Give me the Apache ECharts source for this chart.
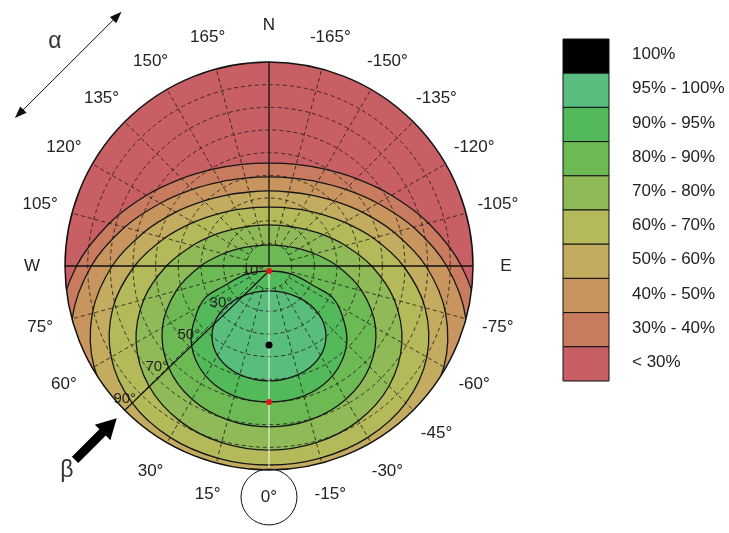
<!DOCTYPE html>
<html><head><meta charset="utf-8">
<script src="https://cdn.jsdelivr.net/npm/echarts@6/dist/echarts.min.js"></script>
<style>html,body{margin:0;padding:0;background:#fff}#c{width:729px;height:533px}</style>
</head><body><div id="c"></div>
<script>
// ---------- data ----------
// orientation alpha (deg) of sampled rays on the west half; chart is mirror-symmetric N-S
const rayAngles = [0, 15, 30, 45, 60, 75, 90, 105, 120, 135, 150, 165, 180];
// tilt beta (deg) where each iso-irradiation line crosses those rays (>90 = outside the disk)
const iso30 = [107.2, 107.3, 107.5, 106.6, 103.2, 95.8, 84.9, 72.9, 62.4, 54.5, 49.3, 46.4, 45.4];
const iso40 = [101.0, 101.2, 101.5, 100.9, 97.5, 89.9, 78.4, 66.0, 55.4, 47.8, 42.9, 40.1, 39.3];
const iso50 = [94.8, 94.9, 94.7, 93.3, 89.1, 80.7, 69.2, 57.2, 47.5, 40.6, 36.2, 33.8, 33.1];
const iso60 = [87.8, 87.7, 87.3, 85.4, 80.4, 71.3, 59.3, 47.6, 38.5, 32.4, 28.7, 26.7, 26.0];
const iso70 = [81.2, 80.7, 78.9, 74.9, 67.7, 57.2, 45.3, 34.9, 27.6, 22.9, 20.0, 18.6, 18.1];
const iso80 = [71.0, 70.3, 67.9, 62.8, 54.3, 42.4, 30.2, 20.9, 15.3, 12.1, 10.4, 9.5, 9.3];
// closed iso-lines around the optimum, [alpha, beta] along the west half (bottom -> top)
const iso90 = [[0, 60.0], [12.4, 59.6], [24.4, 57.6], [35.6, 53.7], [46.5, 47.4], [56.1, 38.8], [63.4, 31.6], [65.9, 22.7], [70.0, 10.3], [0, 2.2]];
const iso95 = [[0, 50.7], [14.7, 49.7], [28.1, 46.3], [39.2, 39.8], [46.1, 30.2], [42.6, 18.6], [0, 11.0]];
const optimum = [0, 34.8];                 // [alpha, beta] of 100 %
const redMarks = [[0, 2.2], [0, 60.0]];    // [alpha, beta]
const bandLabels = ['100%', '95% - 100%', '90% - 95%', '80% - 90%', '70% - 80%', '60% - 70%', '50% - 60%', '40% - 50%', '30% - 40%', '< 30%'];
const bandColors = ['#000000', '#59be7d', '#53ba5b', '#6dba55', '#90ba58', '#b4ba5a', '#c3ab5f', '#c8955e', '#c97b5f', '#c75f64'];
const angleTicks = [180, 165, 150, 135, 120, 105, 90, 75, 60, 30, 15, 0, -15, -30, -45, -60, -75, -90, -105, -120, -135, -150, -165];
const angleTickLabels = ['N', '165°', '150°', '135°', '120°', '105°', 'W', '75°', '60°', '30°', '15°', '0°', '-15°', '-30°', '-45°', '-60°', '-75°', 'E', '-105°', '-120°', '-135°', '-150°', '-165°'];
const tiltTicks = [10, 30, 50, 70, 90];
const tiltTickLabels = ['10°', '30°', '50°', '70°', '90°'];
const gridTilts = [10, 20, 30, 40, 50, 60, 70, 80];
const gridAngles = [15, 30, 45, 60, 75, 105, 120, 135, 150, 165, -15, -30, -45, -60, -75, -105, -120, -135, -150, -165];

// ---------- helpers ----------
const FONT = '"Liberation Sans", Arial, sans-serif';
function rayPoly(vals) {
  const pts = [];
  for (let i = 0; i < rayAngles.length; i++) pts.push([vals[i], rayAngles[i]]);
  for (let i = rayAngles.length - 2; i >= 1; i--) pts.push([vals[i], -rayAngles[i]]);
  return pts;
}
function loopPoly(list) {
  const pts = list.map(p => [p[1], p[0]]);
  for (let i = list.length - 2; i >= 1; i--) pts.push([list[i][1], -list[i][0]]);
  return pts;
}
const levels = [
  { pts: rayPoly(iso30), color: bandColors[8] },
  { pts: rayPoly(iso40), color: bandColors[7] },
  { pts: rayPoly(iso50), color: bandColors[6] },
  { pts: rayPoly(iso60), color: bandColors[5] },
  { pts: rayPoly(iso70), color: bandColors[4] },
  { pts: rayPoly(iso80), color: bandColors[3] },
  { pts: loopPoly(iso90), color: bandColors[2] },
  { pts: loopPoly(iso95), color: bandColors[1] }
];
function geom(api) {
  const c = api.coord([0, 0]); const e = api.coord([90, 0]);
  return { cx: c[0], cy: c[1], R: Math.hypot(e[0] - c[0], e[1] - c[1]) };
}
function txt(t, x, y, size, color) {
  return { type: 'text', style: { text: t, x: x, y: y, font: size + 'px ' + FONT, fill: color || '#222',
    align: 'center', verticalAlign: 'middle', textAlign: 'center', textVerticalAlign: 'middle' } };
}
function layer(z, draw) {
  return { type: 'custom', coordinateSystem: 'polar', silent: true, z: z, data: [[0, 0]],
    renderItem: (p, api) => ({ type: 'group', children: draw(api) }) };
}

// ---------- layers ----------
const fills = layer(1, api => {
  const g = geom(api);
  const ch = [{ type: 'circle', shape: { cx: g.cx, cy: g.cy, r: g.R }, style: { fill: bandColors[9] } }];
  levels.forEach(l => ch.push({ type: 'polygon', shape: { points: l.pts.map(p => api.coord(p)), smooth: 0.35 }, style: { fill: l.color } }));
  return ch;
});
const grid = layer(2, api => {
  const g = geom(api); const ch = [];
  const st = { fill: 'none', stroke: 'rgba(30,25,20,0.8)', lineWidth: 1, lineDash: [4, 3] };
  gridTilts.forEach(b => {
    const e = api.coord([b, 0]);
    ch.push({ type: 'circle', shape: { cx: g.cx, cy: g.cy, r: Math.hypot(e[0] - g.cx, e[1] - g.cy) }, style: st });
  });
  gridAngles.forEach(a => {
    const p1 = api.coord([10, a]), p2 = api.coord([90, a]);
    ch.push({ type: 'line', shape: { x1: p1[0], y1: p1[1], x2: p2[0], y2: p2[1] }, style: st });
  });
  return ch;
});
const isoLines = layer(3, api => levels.map(l => ({ type: 'polygon',
  shape: { points: l.pts.map(p => api.coord(p)), smooth: 0.35 },
  style: { fill: 'none', stroke: '#161616', lineWidth: 1.3 } })));
const mask = layer(4, api => {
  const g = geom(api);
  return [{ type: 'ring', shape: { cx: g.cx, cy: g.cy, r: g.R + 60, r0: g.R }, style: { fill: '#ffffff' } }];
});
const frame = layer(5, api => {
  const g = geom(api); const ch = [];
  const w = api.coord([90, 90]), e = api.coord([90, -90]), n = api.coord([90, 180]);
  const s0 = api.coord([3, 0]), s1 = api.coord([90, 0]), d1 = api.coord([90, 45]), d0 = api.coord([2.2, 0]);
  ch.push({ type: 'line', shape: { x1: s0[0], y1: s0[1], x2: s1[0], y2: s1[1] }, style: { stroke: 'rgba(255,255,255,0.9)', lineWidth: 1 } });
  ch.push({ type: 'line', shape: { x1: w[0], y1: w[1], x2: e[0], y2: e[1] }, style: { stroke: '#111', lineWidth: 1.3 } });
  ch.push({ type: 'line', shape: { x1: g.cx, y1: g.cy, x2: n[0], y2: n[1] }, style: { stroke: '#111', lineWidth: 1.3 } });
  ch.push({ type: 'line', shape: { x1: d0[0], y1: d0[1], x2: d1[0], y2: d1[1] }, style: { stroke: '#111', lineWidth: 1.1 } });
  ch.push({ type: 'circle', shape: { cx: g.cx, cy: g.cy, r: g.R }, style: { fill: 'none', stroke: '#111', lineWidth: 1.5 } });
  return ch;
});
const labels = layer(6, api => {
  const ch = [];
  angleTicks.forEach((a, i) => {
    const rr = a === 180 ? 106.3 : (a === 0 ? 101.9 : 104.5);
    const p = api.coord([rr, a]);
    ch.push(txt(angleTickLabels[i], p[0], p[1], 17, '#222'));
    if (a === 0) {
      const c0 = api.coord([0, 0]), c1 = api.coord([12.35, 0]);
      ch.push({ type: 'circle', shape: { cx: p[0], cy: p[1], r: Math.abs(c1[1] - c0[1]) }, style: { fill: 'none', stroke: '#111', lineWidth: 1 } });
    }
  });
  tiltTicks.forEach((b, i) => {
    const p = api.coord([b, 45]);
    ch.push(txt(tiltTickLabels[i], p[0], p[1] - 11, 15, '#1e1e1e'));
  });
  redMarks.forEach(m => { const p = api.coord([m[1], m[0]]);
    ch.push({ type: 'circle', shape: { cx: p[0], cy: p[1], r: 3 }, style: { fill: '#e8141c' } }); });
  const o = api.coord([optimum[1], optimum[0]]);
  ch.push({ type: 'circle', shape: { cx: o[0], cy: o[1], r: 3.5 }, style: { fill: '#000' } });
  // alpha double arrow
  const a1 = api.coord([129.7, 120.2]), a2 = api.coord([129.7, 149.9]);
  const ux = (a2[0] - a1[0]), uy = (a2[1] - a1[1]), L = Math.hypot(ux, uy), u = [ux / L, uy / L], nn = [-u[1], u[0]];
  const hl = 12, hw = 4.5;
  ch.push({ type: 'line', shape: { x1: a1[0] + u[0] * 6, y1: a1[1] + u[1] * 6, x2: a2[0] - u[0] * 6, y2: a2[1] - u[1] * 6 }, style: { stroke: '#111', lineWidth: 1 } });
  ch.push({ type: 'polygon', shape: { points: [a2, [a2[0] - u[0] * hl + nn[0] * hw, a2[1] - u[1] * hl + nn[1] * hw], [a2[0] - u[0] * hl - nn[0] * hw, a2[1] - u[1] * hl - nn[1] * hw]] }, style: { fill: '#111' } });
  ch.push({ type: 'polygon', shape: { points: [a1, [a1[0] + u[0] * hl + nn[0] * hw, a1[1] + u[1] * hl + nn[1] * hw], [a1[0] + u[0] * hl - nn[0] * hw, a1[1] + u[1] * hl - nn[1] * hw]] }, style: { fill: '#111' } });
  const al = api.coord([136.7, 136.3]);
  ch.push(txt('α', al[0], al[1], 23, '#333'));
  // beta arrow
  const tip = api.coord([95, 45]), tail = api.coord([121, 45]);
  const vx = tip[0] - tail[0], vy = tip[1] - tail[1], VL = Math.hypot(vx, vy), v = [vx / VL, vy / VL], m = [-v[1], v[0]];
  const neck = [tip[0] - v[0] * 20, tip[1] - v[1] * 20], sw = 4.5, hw2 = 11;
  ch.push({ type: 'polygon', shape: { points: [
    [tail[0] + m[0] * sw, tail[1] + m[1] * sw], [neck[0] + m[0] * sw, neck[1] + m[1] * sw], [neck[0] + m[0] * hw2, neck[1] + m[1] * hw2],
    tip, [neck[0] - m[0] * hw2, neck[1] - m[1] * hw2], [neck[0] - m[0] * sw, neck[1] - m[1] * sw], [tail[0] - m[0] * sw, tail[1] - m[1] * sw]] },
    style: { fill: '#000' } });
  const bl = api.coord([127, 44.6]);
  ch.push(txt('β', bl[0], bl[1], 23, '#333'));
  return ch;
});

// ---------- legend ----------
const legendEls = [];
bandLabels.forEach((t, i) => {
  const y = 39 + i * 34.2;
  legendEls.push({ type: 'rect', shape: { x: 563, y: y, width: 46, height: 34.2 }, style: { fill: bandColors[i], stroke: '#111', lineWidth: 1 } });
  legendEls.push({ type: 'text', style: { text: t, x: 632, y: y + 15.5, font: '17px ' + FONT, fill: '#222', textVerticalAlign: 'middle', verticalAlign: 'middle' } });
});

const chart = echarts.init(document.getElementById('c'));
chart.setOption({
  animation: false,
  backgroundColor: '#fff',
  polar: { center: [269, 266], radius: 204 },
  angleAxis: { type: 'value', min: -180, max: 180, startAngle: 90, clockwise: true, show: false },
  radiusAxis: { type: 'value', min: 0, max: 90, show: false },
  graphic: legendEls,
  series: [fills, grid, isoLines, mask, frame, labels]
});
</script>
</body></html>
